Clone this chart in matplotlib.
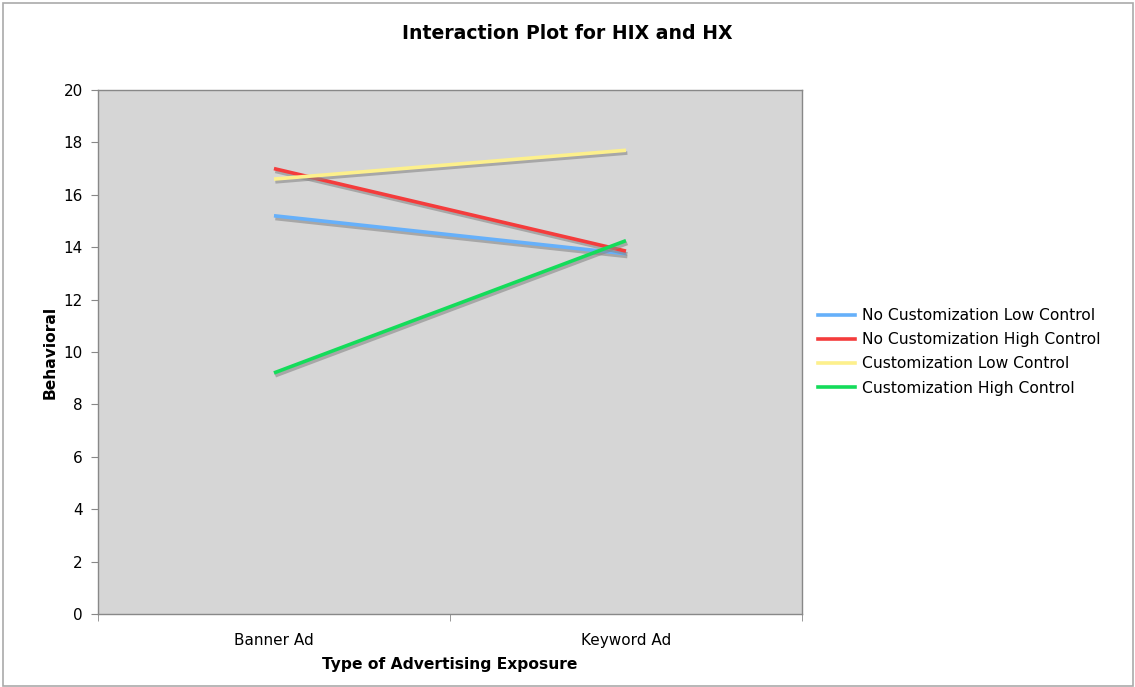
import matplotlib.pyplot as plt
import matplotlib.patheffects as pe
from matplotlib.patches import Rectangle
from matplotlib.lines import Line2D

# Data
categories = ["Banner Ad", "Keyword Ad"]
no_cust_low = [15.2, 13.75]
no_cust_high = [17.0, 13.85]
cust_low = [16.6, 17.7]
cust_high = [9.2, 14.25]

series = [
    ("No Customization Low Control", no_cust_low, "#66B0FA"),
    ("No Customization High Control", no_cust_high, "#F43C3C"),
    ("Customization Low Control", cust_low, "#FDF08C"),
    ("Customization High Control", cust_high, "#14DC5A"),
]

plt.rcParams['font.family'] = ['DejaVu Sans']

fig = plt.figure(figsize=(11.35, 6.87), dpi=100)
ax = fig.add_axes([0.0863, 0.1063, 0.6203, 0.7627])
ax.set_facecolor("#D6D6D6")

x = list(range(len(categories)))
shadow = [pe.SimpleLineShadow(offset=(1, -2), shadow_color="#888888", alpha=0.6), pe.Normal()]
handles = []
for name, vals, col in series:
    ax.plot(x, vals, color=col, lw=2.6, path_effects=shadow, solid_capstyle="butt")
    handles.append(Line2D([], [], color=col, lw=2.6, label=name))

ax.set_xlim(-0.5, 1.5)
ax.set_ylim(0, 20)
ax.set_yticks(range(0, 21, 2))
ax.set_xticks(x)
ax.set_xticklabels(categories)
ax.set_xticks([-0.5, 0.5, 1.5], minor=True)
ax.tick_params(axis="x", which="major", length=0, pad=14, labelsize=11)
ax.tick_params(axis="x", which="minor", length=5, color="#888888")
ax.tick_params(axis="y", length=5, color="#888888", labelsize=11, pad=6)

for s in ax.spines.values():
    s.set_color("#888888")
    s.set_linewidth(1)

ax.set_xlabel("Type of Advertising Exposure", fontsize=11.2, fontweight="bold", labelpad=6)
ax.set_ylabel("Behavioral", fontsize=11.2, fontweight="bold", labelpad=4)
fig.text(0.5, 0.951, "Interaction Plot for HIX and HX", ha="center", va="center",
         fontsize=13.6, fontweight="bold")

ax.legend(handles=handles, loc="center left", bbox_to_anchor=(1.003, 0.5), frameon=False,
          fontsize=11.2, handlelength=2.4, handletextpad=0.45, labelspacing=0.58)

fig.patches.append(Rectangle((0.003, 0.002), 0.995, 0.993, transform=fig.transFigure,
                             fill=False, edgecolor="#AAAAAA", lw=1.2))

fig.savefig("out.png", dpi=100)
